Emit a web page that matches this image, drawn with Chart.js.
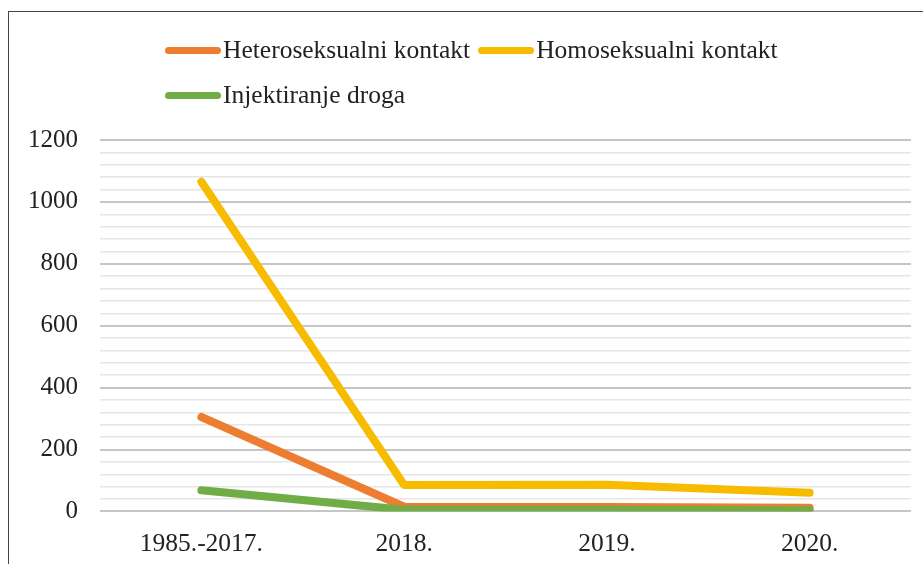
<!DOCTYPE html>
<html>
<head>
<meta charset="utf-8">
<script src="https://cdn.jsdelivr.net/npm/chart.js@4"></script>
<style>
  html, body { margin: 0; padding: 0; background: #fff; }
  #wrap { position: relative; width: 923px; height: 564px; overflow: hidden; }
  #frame { position: absolute; left: 8px; top: 11px; width: 940px; height: 600px; border: 1.5px solid #444; box-sizing: border-box; }
  #legend { position: absolute; left: 165px; top: 35px; width: 660px; display: flex; flex-wrap: wrap; row-gap: 15px;
            font-family: "Liberation Serif", "DejaVu Serif", serif; font-size: 25.5px; color: #222; line-height: 30px; }
  .item { display: flex; align-items: center; margin-right: 8px; }
  .swatch { width: 56px; height: 7px; border-radius: 4px; margin-right: 2px; }
  canvas { position: absolute; left: 0; top: 0; }
</style>
</head>
<body>
<div id="wrap">
  <div id="frame"></div>
  <canvas id="chart" width="923" height="578"></canvas>
  <div id="legend"></div>
</div>
<script>
// Kategorije i serije
const categories = ['1985.-2017.', '2018.', '2019.', '2020.'];
const seriesNames = ['Heteroseksualni kontakt', 'Homoseksualni kontakt', 'Injektiranje droga'];
const hetero = [305, 15, 14, 12];
const homo = [1065, 85, 86, 60];
const drugs = [68, 5, 5, 4];
const colors = ['#ED7D31', '#F7BC00', '#70AD47'];
const yMax = 1200;
const yStep = 40;
const yLabelStep = 200;

const serif = '"Liberation Serif", "DejaVu Serif", serif';

function makeDataset(i, data, order) {
    return {
        label: seriesNames[i],
        data: data,
        borderColor: colors[i],
        backgroundColor: colors[i],
        borderWidth: 8,
        borderCapStyle: 'round',
        borderJoinStyle: 'round',
        pointRadius: 0,
        tension: 0,
        order: order
    };
}

const chart = new Chart(document.getElementById('chart'), {
    type: 'line',
    data: {
        labels: categories,
        datasets: [
            makeDataset(0, hetero, 1),
            makeDataset(1, homo, 2),
            makeDataset(2, drugs, 0)
        ]
    },
    options: {
        responsive: false,
        animation: false,
        layout: { padding: { left: 6, right: 12, top: 140, bottom: 0 } },
        plugins: {
            legend: { display: false },
            tooltip: { enabled: false }
        },
        scales: {
            x: {
                offset: true,
                grid: { display: false, drawTicks: false },
                border: { display: false },
                ticks: { padding: 18, color: '#222', font: { family: serif, size: 25.5 } }
            },
            y: {
                min: 0,
                max: yMax,
                border: { display: false },
                grid: {
                    drawTicks: false,
                    color: ctx => (ctx.tick && ctx.tick.value % yLabelStep === 0) ? '#c6c6c6' : '#e6e6e6',
                    lineWidth: ctx => (ctx.tick && ctx.tick.value % yLabelStep === 0) ? 2 : 1.5
                },
                ticks: {
                    stepSize: yStep,
                    autoSkip: false,
                    padding: 22,
                    color: '#222',
                    font: { family: serif, size: 25 },
                    callback: v => (v % yLabelStep === 0) ? v : ''
                }
            }
        }
    }
});

// Legenda (HTML)
const legend = document.getElementById('legend');
seriesNames.forEach((name, i) => {
    const item = document.createElement('div');
    item.className = 'item';
    const sw = document.createElement('span');
    sw.className = 'swatch';
    sw.style.background = colors[i];
    const txt = document.createElement('span');
    txt.textContent = name;
    item.appendChild(sw);
    item.appendChild(txt);
    legend.appendChild(item);
});
</script>
</body>
</html>
